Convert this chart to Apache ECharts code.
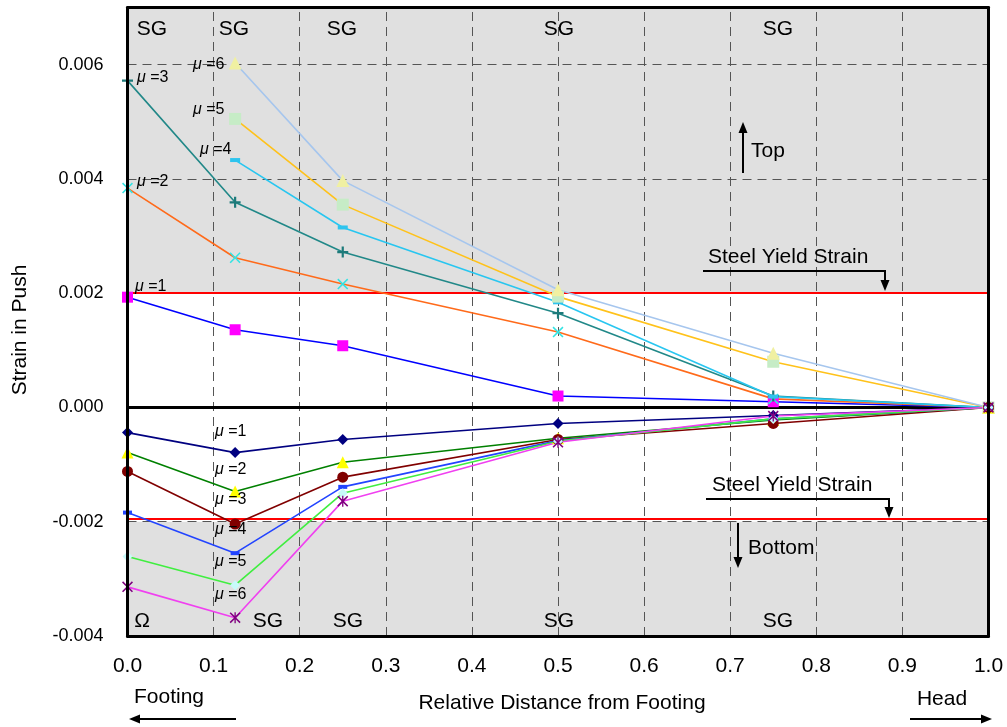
<!DOCTYPE html>
<html>
<head>
<meta charset="utf-8">
<script src="https://cdn.jsdelivr.net/npm/echarts@6/dist/echarts.min.js"></script>
<style>html,body{margin:0;padding:0;background:#fff;}#c{width:1007px;height:727px;}</style>
</head>
<body>
<div id="c"></div>
<script>
// ---------------- data ----------------
const xPositions = [0, 0.125, 0.25, 0.5, 0.75, 1.0];
const muLabels = ['μ=1', 'μ=2', 'μ=3', 'μ=4', 'μ=5', 'μ=6'];
// Top face strains
const top1 = [0.00193, 0.00136, 0.00108, 0.00020, 0.00010, 0];
const top2 = [0.00384, 0.00262, 0.00216, 0.00132, 0.00015, 0];
const top3 = [0.00572, 0.00359, 0.00272, 0.00165, 0.00020, 0];
const top4 = [null, 0.00433, 0.00315, 0.00184, 0.00019, 0];
const top5 = [null, 0.00505, 0.00355, 0.00194, 0.00080, 0];
const top6 = [null, 0.00603, 0.00397, 0.00206, 0.00095, 0];
// Bottom face strains
const bot1 = [-0.00044, -0.00079, -0.00056, -0.00028, -0.00014, 0];
const bot2 = [-0.00079, -0.00147, -0.00096, -0.00054, -0.00022, 0];
const bot3 = [-0.00112, -0.00204, -0.00122, -0.00056, -0.00028, 0];
const bot4 = [-0.00184, -0.00255, -0.00139, -0.00058, -0.00020, 0];
const bot5 = [-0.00261, -0.00311, -0.00150, -0.00059, -0.00020, 0];
const bot6 = [-0.00314, -0.00368, -0.00164, -0.00061, -0.00015, 0];
// reference levels
const yieldTop = 0.002;
const yieldBottom = -0.00195;
const shadeTop = [0.002, 0.007];
const shadeBottom = [-0.004, -0.002];
const hGridValues = [0.006, 0.004, -0.002];
const vGridValues = [0.1, 0.2, 0.3, 0.4, 0.5, 0.6, 0.7, 0.8, 0.9];

// ---------------- fonts ----------------
function fontAvailable(name) {
  const ctx = document.createElement('canvas').getContext('2d');
  const s = '0.006 Strain in Push';
  ctx.font = '40px monospace';
  const a = ctx.measureText(s).width;
  ctx.font = "40px '" + name + "', monospace";
  return ctx.measureText(s).width !== a;
}
const FONT = "'Liberation Sans', Arial, sans-serif";
const narrow = fontAvailable('Liberation Sans Narrow');
const yTickFamily = narrow ? "'Liberation Sans Narrow', 'Liberation Sans', sans-serif" : FONT;
const yTickSize = narrow ? 21 : 18;

const pts = arr => xPositions.map((x, i) => [x, arr[i]]).filter(p => p[1] !== null);

const P_PLUS = 'path://M4,0H6V4H10V6H6V10H4V6H0V4H4Z';
const P_CROSS = 'path://M1,0L5,4L9,0L10,1L6,5L10,9L9,10L5,6L1,10L0,9L4,5L0,1Z';
const P_STAR = 'path://M1,0L5,4L9,0L10,1L6,5L10,9L9,10L5,6L1,10L0,9L4,5L0,1Z M4.4,0L5.6,0L5.6,10L4.4,10Z';

function dataSeries(name, arr, lineColor, symbol, symbolSize, markerColor) {
  return {
    type: 'line', name, data: pts(arr), z: 6,
    symbol, symbolSize, showAllSymbol: true,
    lineStyle: { color: lineColor, width: 1.6 },
    itemStyle: { color: markerColor, borderWidth: 0 },
    emphasis: { disabled: true }, silent: true, clip: false,
    animation: false
  };
}
function refLineSeries(items, z, style) {
  return { type: 'line', data: [], z: z, silent: true,
    markLine: { silent: true, symbol: 'none', label: { show: false }, animation: false,
      precision: 8, z: z, lineStyle: Object.assign({}, style), data: items } };
}

const series = [
  { type: 'line', data: [], z: 1, silent: true,
    markArea: { silent: true, z: 1, itemStyle: { color: '#e0e0e0', opacity: 1 },
      data: [[{ yAxis: shadeTop[0] }, { yAxis: shadeTop[1] }], [{ yAxis: shadeBottom[0] }, { yAxis: shadeBottom[1] }]] } },
  refLineSeries(vGridValues.map(v => ({ xAxis: v })), 2, { color: '#555', width: 1, type: [9, 6] }),
  refLineSeries(hGridValues.map(v => ({ yAxis: v })), 2, { color: '#555', width: 1, type: [9, 6] }),
  refLineSeries([{ yAxis: yieldTop }, { yAxis: yieldBottom }], 3, { color: '#ff0000', width: 2, type: 'solid' }),
  refLineSeries([{ yAxis: 0 }], 3, { color: '#000', width: 3, type: 'solid' }),
  dataSeries('top μ=1', top1, '#0000ff', 'rect', 11, '#ff00ff'),
  dataSeries('top μ=2', top2, '#ff6a1a', P_CROSS, 11, '#33e3e3'),
  dataSeries('top μ=3', top3, '#218888', P_PLUS, 11, '#1d7a7a'),
  dataSeries('top μ=4', top4, '#28c6f0', 'rect', [10, 4], '#2ec4ee'),
  dataSeries('top μ=5', top5, '#ffc21a', 'rect', 12, '#c6ecc6'),
  dataSeries('top μ=6', top6, '#a6c6ee', 'triangle', 13, '#f0f0a2'),
  dataSeries('bot μ=1', bot1, '#000080', 'diamond', 11, '#000080'),
  dataSeries('bot μ=2', bot2, '#008000', 'triangle', 12, '#ffff00'),
  dataSeries('bot μ=3', bot3, '#800000', 'circle', 11, '#800000'),
  dataSeries('bot μ=4', bot4, '#2244ff', 'rect', [9, 4], '#2244ff'),
  dataSeries('bot μ=5', bot5, '#40ee40', 'diamond', 10, '#c8fafa'),
  dataSeries('bot μ=6', bot6, '#f040f0', P_STAR, 11, '#800080')
];

const frameLine = { show: true, onZero: false, lineStyle: { color: '#000', width: 3 } };
const option = {
  animation: false,
  backgroundColor: '#fff',
  grid: { left: 127.5, right: 18.5, top: 7.5, bottom: 91, containLabel: false },
  xAxis: [
    { type: 'value', min: 0, max: 1, interval: 0.1, position: 'bottom', z: 10,
      axisLine: frameLine, axisTick: { show: false }, splitLine: { show: false },
      axisLabel: { formatter: v => v.toFixed(1), margin: 20, fontSize: 21, color: '#000', fontFamily: FONT } },
    { type: 'value', min: 0, max: 1, interval: 0.1, position: 'top', z: 10,
      axisLine: frameLine, axisTick: { show: false }, splitLine: { show: false }, axisLabel: { show: false } }
  ],
  yAxis: [
    { type: 'value', min: -0.004, max: 0.007, interval: 0.001, position: 'left', z: 10,
      axisLine: frameLine, axisTick: { show: false }, splitLine: { show: false },
      axisLabel: { formatter: v => (Math.round(v * 1000) % 2 === 0 ? v.toFixed(3) : ''),
        margin: 24, fontSize: yTickSize, color: '#000', fontFamily: yTickFamily } },
    { type: 'value', min: -0.004, max: 0.007, interval: 0.001, position: 'right', z: 10,
      axisLine: frameLine, axisTick: { show: false }, splitLine: { show: false }, axisLabel: { show: false } }
  ],
  series: series
};

const chart = echarts.init(document.getElementById('c'), null, { renderer: 'canvas' });
chart.setOption(option);

// ---------------- annotations ----------------
const G = [];
function txt(text, x, y, opts) {
  opts = opts || {};
  G.push({ type: 'text', z: 50, silent: true, rotation: opts.rotation || 0, x: x, y: y,
    style: { text: text, x: 0, y: 0, fill: '#000', fontSize: opts.size || 21, fontFamily: FONT,
      align: opts.align || 'center', verticalAlign: 'middle', rich: opts.rich } });
}
function seg(x1, y1, x2, y2) {
  G.push({ type: 'line', z: 50, silent: true, shape: { x1, y1, x2, y2 }, style: { stroke: '#000', lineWidth: 2 } });
}
function arrow(x1, y1, x2, y2, hl, hw) {
  hl = hl || 10; hw = hw || 9;
  const dx = x2 - x1, dy = y2 - y1, L = Math.hypot(dx, dy), ux = dx / L, uy = dy / L;
  const bx = x2 - ux * hl, by = y2 - uy * hl, px = -uy, py = ux;
  seg(x1, y1, bx + ux * 2, by + uy * 2);
  G.push({ type: 'polygon', z: 50, silent: true,
    shape: { points: [[x2, y2], [bx + px * hw / 2, by + py * hw / 2], [bx - px * hw / 2, by - py * hw / 2]] },
    style: { fill: '#000' } });
}
const muRich = { m: { fontStyle: 'italic', fontSize: 16, fontFamily: FONT, fill: '#000' },
                 t: { fontSize: 16, fontFamily: FONT, fill: '#000' } };
function mu(label, x, y) {
  const n = label.split('=')[1];
  txt('{m|μ} {t|=' + n + '}', x, y, { align: 'left', size: 16, rich: muRich });
}

// SG labels
[152, 234, 342, 559, 778].forEach(x => txt('SG', x, 29));
txt('Ω', 142, 621);
[268, 348, 559, 778].forEach(x => txt('SG', x, 621));

// μ labels (top group)
mu(muLabels[2], 137, 78);
mu(muLabels[1], 137, 182);
mu(muLabels[0], 135, 287);
mu(muLabels[5], 193, 65);
mu(muLabels[4], 193, 110);
mu(muLabels[3], 200, 150);
// μ labels (bottom group)
[432, 470, 500, 530, 562, 595].forEach((y, i) => mu(muLabels[i], 215, y));

// Top / Bottom arrows
arrow(743, 173, 743, 122, 11, 9);
txt('Top', 751, 151, { align: 'left' });
arrow(738, 523, 738, 568, 11, 9);
txt('Bottom', 748, 548, { align: 'left' });

// Steel yield strain callouts
txt('Steel Yield Strain', 708, 257, { align: 'left' });
seg(703, 271, 885, 271);
arrow(885, 270, 885, 291, 11, 9);
txt('Steel Yield Strain', 712, 485, { align: 'left' });
seg(706, 499, 889, 499);
arrow(889, 498, 889, 518, 11, 9);

// axis names
txt('Strain in Push', 20, 330, { rotation: Math.PI / 2 });
txt('Relative Distance from Footing', 562, 703);
txt('Footing', 169, 697);
arrow(236, 719, 129, 719, 11, 9);
txt('Head', 942, 699);
arrow(910, 719, 992, 719, 11, 9);

chart.setOption({ graphic: { elements: G } });
</script>
</body>
</html>
